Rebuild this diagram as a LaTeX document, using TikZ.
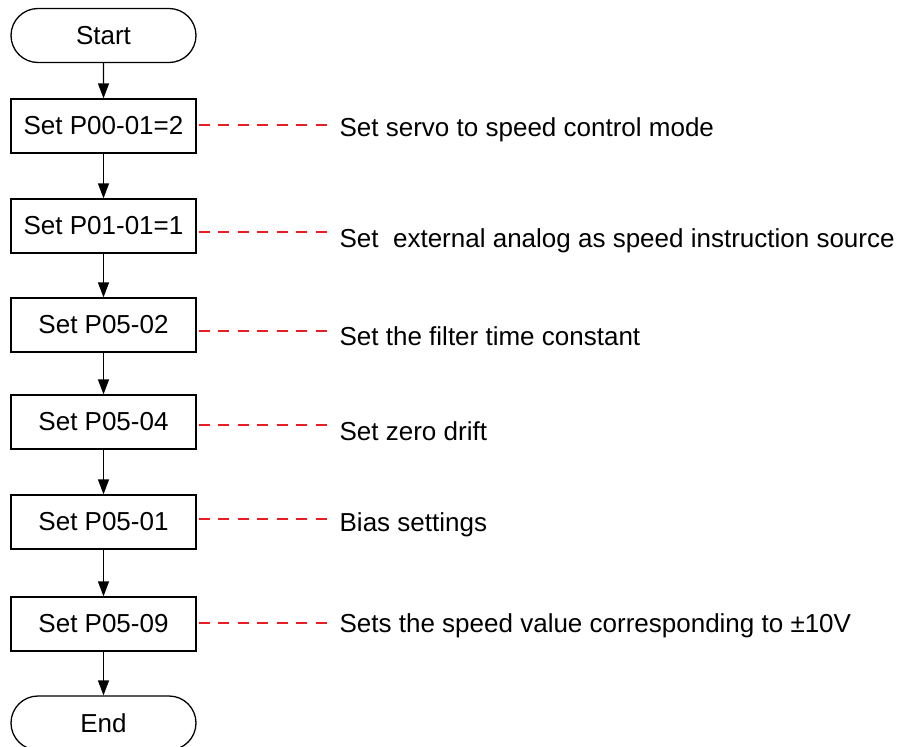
\documentclass[tikz,border=0pt]{standalone}
\usepackage{fontspec}
\setmainfont{Liberation Sans}
\usetikzlibrary{arrows.meta,shapes.misc}
\definecolor{dashred}{RGB}{232,30,36}

\begin{document}
\begin{tikzpicture}[x=1pt,y=-1pt,>={Triangle[length=15pt,width=11pt]},line width=1.3pt,
  font=\fontsize{26}{30}\selectfont,
  term/.style={draw,rounded rectangle,minimum width=185pt,minimum height=54pt,inner sep=0pt},
  box/.style={draw,minimum width=185pt,minimum height=54pt,inner sep=0pt},
  note/.style={anchor=base west,inner sep=0pt},
  hint/.style={draw=dashred,line width=1.2pt,dash pattern=on 11pt off 8.5pt,shorten <=2pt,shorten >=12pt}]
  \useasboundingbox (0,0) rectangle (898,747);

  % 流程框
  \node[term] (start) at (103.5,35.5) {Start};
  \node[box] (p1) at (103.5,126) {Set P00-01=2};
  \node[box] (p2) at (103.5,226) {Set P01-01=1};
  \node[box] (p3) at (103.5,325) {Set P05-02};
  \node[box] (p4) at (103.5,422) {Set P05-04};
  \node[box] (p5) at (103.5,522) {Set P05-01};
  \node[box] (p6) at (103.5,624) {Set P05-09};
  \node[term] (stop) at (103.5,723) {End};

  % 箭头
  \draw[->] (start) -- (p1);
  \draw[->] (p1) -- (p2);
  \draw[->] (p2) -- (p3);
  \draw[->] (p3) -- (p4);
  \draw[->] (p4) -- (p5);
  \draw[->] (p5) -- (p6);
  \draw[->] (p6) -- (stop);

  % 说明文字
  \node[note] (n1) at (339,136.5) {Set servo to speed control mode};
  \node[note] (n2) at (339,247) {Set\ \ external analog as speed instruction source};
  \node[note] (n3) at (339,345) {Set the filter time constant};
  \node[note] (n4) at (339,440.5) {Set zero drift};
  \node[note] (n5) at (339,531.5) {Bias settings};
  \node[note] (n6) at (339,632) {Sets the speed value corresponding to ±10V};

  % 红色虚线
  \draw[hint] ([yshift=1pt]p1.east) -- ([yshift=1pt]p1.east -| n1.west);
  \draw[hint] ([yshift=-6pt]p2.east) -- ([yshift=-6pt]p2.east -| n2.west);
  \draw[hint] ([yshift=-6pt]p3.east) -- ([yshift=-6pt]p3.east -| n3.west);
  \draw[hint] ([yshift=-3pt]p4.east) -- ([yshift=-3pt]p4.east -| n4.west);
  \draw[hint] ([yshift=3pt]p5.east) -- ([yshift=3pt]p5.east -| n5.west);
  \draw[hint] ([yshift=1pt]p6.east) -- ([yshift=1pt]p6.east -| n6.west);
\end{tikzpicture}
\end{document}
